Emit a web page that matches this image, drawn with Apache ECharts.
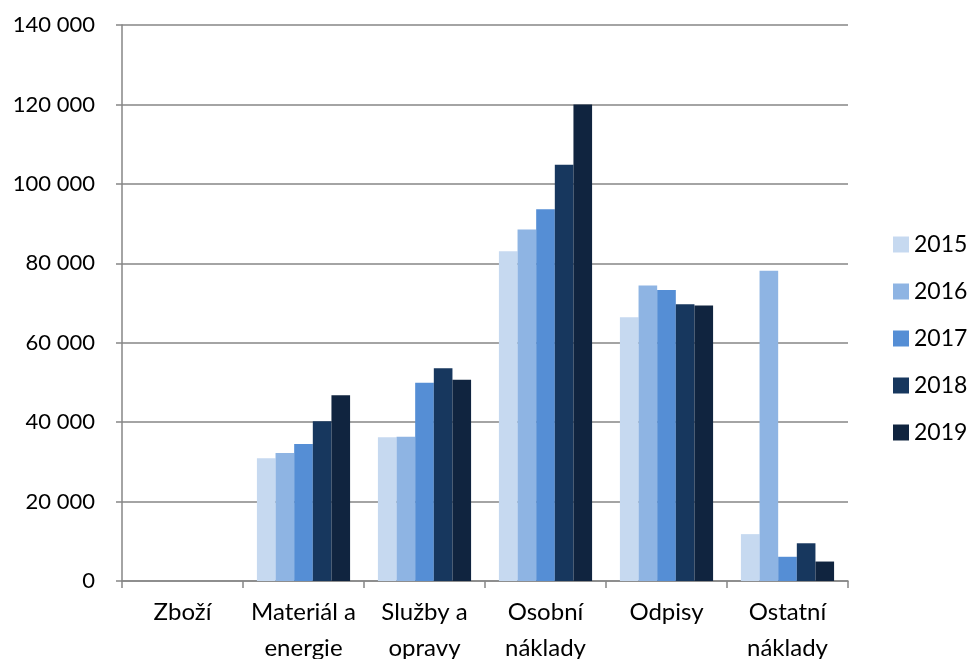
<!DOCTYPE html>
<html>
<head>
<meta charset="utf-8">
<script src="https://cdn.jsdelivr.net/npm/echarts@6/dist/echarts.min.js"></script>
<style>html,body{margin:0;padding:0;background:#fff;overflow:hidden;}#c{width:968px;height:659px;}</style>
</head>
<body>
<div id="c"></div>
<script>
const categories = ["Zboží", "Materiál a energie", "Služby a opravy", "Osobní náklady", "Odpisy", "Ostatní náklady"];
const years = ["2015", "2016", "2017", "2018", "2019"];
const v2015 = [0, 30900, 36200, 83000, 66400, 11800];
const v2016 = [0, 32200, 36300, 88500, 74400, 78100];
const v2017 = [0, 34500, 49900, 93600, 73300, 6100];
const v2018 = [0, 40200, 53600, 104800, 69700, 9500];
const v2019 = [0, 46800, 50700, 120000, 69400, 4900];
const colors = ["#c6d9f0", "#8eb4e3", "#558ed5", "#17375e", "#10243f"];
const seriesValues = [v2015, v2016, v2017, v2018, v2019];

const FONT = "Lato";
const chart = echarts.init(document.getElementById('c'), null, {renderer: 'canvas'});
chart.setOption({
  animation: false,
  backgroundColor: '#ffffff',
  color: colors,
  textStyle: {fontFamily: FONT},
  grid: {left: 122, right: 120, top: 25, bottom: 78, containLabel: false, outerBoundsMode: 'none'},
  legend: {
    orient: 'vertical',
    left: 888, top: 226,
    itemWidth: 16, itemHeight: 16, itemGap: 20,
    icon: 'rect',
    textStyle: {fontFamily: FONT, fontSize: 23, color: '#000', padding: [0,0,0,0], lineHeight: 27},
    data: years
  },
  xAxis: {
    type: 'category',
    data: categories,
    axisLine: {lineStyle: {color: '#868686', width: 1.5}},
    axisTick: {show: true, length: 7, lineStyle: {color: '#868686', width: 1.5}, alignWithLabel: false},
    axisLabel: {
      color: '#000', fontSize: 24, fontFamily: FONT, margin: 13, lineHeight: 36, interval: 0,
      formatter: function (s) { const i = s.lastIndexOf(' '); return i > 0 ? s.slice(0, i) + '\n' + s.slice(i + 1) : s; }
    }
  },
  yAxis: {
    type: 'value',
    min: 0, max: 140000, interval: 20000,
    axisLine: {show: true, lineStyle: {color: '#868686', width: 1.5}},
    axisTick: {show: true, length: 6, lineStyle: {color: '#868686', width: 1.5}},
    splitLine: {show: true, lineStyle: {color: '#868686', width: 1.5}},
    axisLabel: {
      color: '#000', fontSize: 22, fontFamily: FONT, margin: 27,
      formatter: function (v) { return String(v).replace(/\B(?=(\d{3})+(?!\d))/g, ' '); }
    }
  },
  series: years.map(function (y, i) {
    return {
      name: y, type: 'bar', data: seriesValues[i],
      barGap: '0%', barCategoryGap: '23%',
      itemStyle: {color: colors[i]}
    };
  })
});
</script>
</body>
</html>
